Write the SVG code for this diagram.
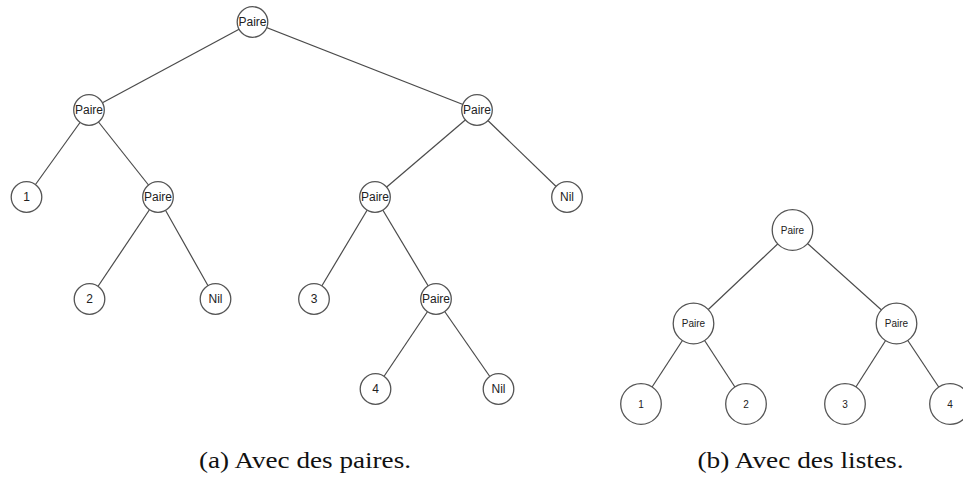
<svg xmlns="http://www.w3.org/2000/svg" width="963" height="477" viewBox="0 0 963 477">
<style>
.e{stroke:#4a4a4a;stroke-width:1.2;fill:none}
.n circle{fill:#fff;stroke:#555;stroke-width:1.3}
.a text{font-family:"Liberation Sans",Arial,sans-serif;font-size:12px;fill:#222;text-anchor:middle;dominant-baseline:central}
.b text{font-family:"Liberation Sans",Arial,sans-serif;font-size:10px;fill:#222;text-anchor:middle;dominant-baseline:central}
.cap{font-family:"Liberation Serif","Times New Roman",serif;font-size:23.5px;fill:#111;text-anchor:middle}
</style>
<rect width="963" height="477" fill="#fff"/>
<g id="connectors">
<line class="e" x1="252.5" y1="22" x2="89" y2="110"/>
<line class="e" x1="252.5" y1="22" x2="477" y2="110"/>
<line class="e" x1="89" y1="110" x2="26.5" y2="197"/>
<line class="e" x1="89" y1="110" x2="158" y2="197"/>
<line class="e" x1="158" y1="197" x2="89.5" y2="299"/>
<line class="e" x1="158" y1="197" x2="215.5" y2="299"/>
<line class="e" x1="477" y1="110" x2="375" y2="197"/>
<line class="e" x1="477" y1="110" x2="567" y2="197"/>
<line class="e" x1="375" y1="197" x2="314" y2="299"/>
<line class="e" x1="375" y1="197" x2="436" y2="299"/>
<line class="e" x1="436" y1="299" x2="375.5" y2="389"/>
<line class="e" x1="436" y1="299" x2="498.5" y2="389"/>
<line class="e" x1="792.5" y1="230" x2="693.5" y2="323.5"/>
<line class="e" x1="792.5" y1="230" x2="896.5" y2="323.5"/>
<line class="e" x1="693.5" y1="323.5" x2="641" y2="404"/>
<line class="e" x1="693.5" y1="323.5" x2="746" y2="404"/>
<line class="e" x1="896.5" y1="323.5" x2="845" y2="404"/>
<line class="e" x1="896.5" y1="323.5" x2="950" y2="404"/>
</g>
<g class="a">
<g id="a_root" class="n"><circle cx="252.5" cy="22" r="15.3"/><text x="252.5" y="22">Paire</text></g>
<g id="a_l" class="n"><circle cx="89" cy="110" r="15.3"/><text x="89" y="110">Paire</text></g>
<g id="a_r" class="n"><circle cx="477" cy="110" r="15.3"/><text x="477" y="110">Paire</text></g>
<g id="a_1" class="n"><circle cx="26.5" cy="197" r="15.3"/><text x="26.5" y="197">1</text></g>
<g id="a_lr" class="n"><circle cx="158" cy="197" r="15.3"/><text x="158" y="197">Paire</text></g>
<g id="a_rl" class="n"><circle cx="375" cy="197" r="15.3"/><text x="375" y="197">Paire</text></g>
<g id="a_nil1" class="n"><circle cx="567" cy="197" r="15.3"/><text x="567" y="197">Nil</text></g>
<g id="a_2" class="n"><circle cx="89.5" cy="299" r="15.3"/><text x="89.5" y="299">2</text></g>
<g id="a_nil2" class="n"><circle cx="215.5" cy="299" r="15.3"/><text x="215.5" y="299">Nil</text></g>
<g id="a_3" class="n"><circle cx="314" cy="299" r="15.3"/><text x="314" y="299">3</text></g>
<g id="a_rlr" class="n"><circle cx="436" cy="299" r="15.3"/><text x="436" y="299">Paire</text></g>
<g id="a_4" class="n"><circle cx="375.5" cy="389" r="15.3"/><text x="375.5" y="389">4</text></g>
<g id="a_nil3" class="n"><circle cx="498.5" cy="389" r="15.3"/><text x="498.5" y="389">Nil</text></g>
</g>
<g class="b">
<g id="b_root" class="n"><circle cx="792.5" cy="230" r="20.3"/><text x="792.5" y="230">Paire</text></g>
<g id="b_l" class="n"><circle cx="693.5" cy="323.5" r="20.3"/><text x="693.5" y="323.5">Paire</text></g>
<g id="b_r" class="n"><circle cx="896.5" cy="323.5" r="20.3"/><text x="896.5" y="323.5">Paire</text></g>
<g id="b_1" class="n"><circle cx="641" cy="404" r="20.3"/><text x="641" y="404">1</text></g>
<g id="b_2" class="n"><circle cx="746" cy="404" r="20.3"/><text x="746" y="404">2</text></g>
<g id="b_3" class="n"><circle cx="845" cy="404" r="20.3"/><text x="845" y="404">3</text></g>
<g id="b_4" class="n"><circle cx="950" cy="404" r="20.3"/><text x="950" y="404">4</text></g>
</g>
<text class="cap" x="305" y="468" textLength="212" lengthAdjust="spacingAndGlyphs">(a) Avec des paires.</text>
<text class="cap" x="800.5" y="468" textLength="206" lengthAdjust="spacingAndGlyphs">(b) Avec des listes.</text>
</svg>
